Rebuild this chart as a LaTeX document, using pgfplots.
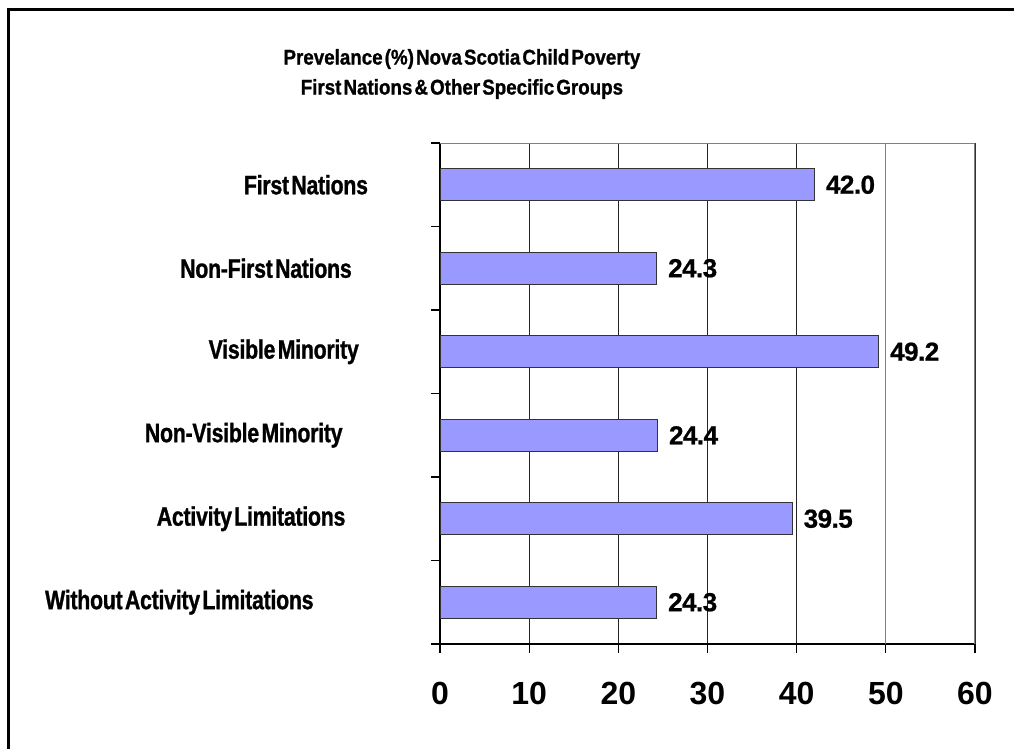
\documentclass[border=0pt]{standalone}
\usepackage{fontspec}
\usepackage{pgfplots}
\pgfplotsset{compat=1.18}
\setmainfont{Liberation Sans}
% tightly set faces for the title, category names and value labels
\newfontfamily\condfont[FakeStretch=0.80,LetterSpace=-1,WordSpace=0.4,FakeBold=1]{Liberation Sans}
\newfontfamily\titlefont[FakeStretch=0.88,WordSpace=0.4,FakeBold=1]{Liberation Sans}
\newfontfamily\numfont[LetterSpace=-2,FakeBold=0.8]{Liberation Sans}
\definecolor{barfill}{HTML}{9999FF}
\newsavebox\natbox
% category name: keeps the width of the full-size name, text set narrow from its left end
\newcommand{\catlab}[1]{%
  \sbox\natbox{\fontsize{21}{21}\selectfont\bfseries #1}%
  \makebox[\wd\natbox][l]{\fontsize{20}{20}\condfont\bfseries #1}}
\begin{document}
\begin{tikzpicture}
\useasboundingbox (0,0) rectangle (760.5pt,561.75pt);
\draw[line width=2pt] (6.4pt,0) -- (6.4pt,554.8pt) -- (770pt,554.8pt);
\begin{axis}[
  at={(330pt,78.75pt)}, anchor=south west,
  scale only axis, width=401.25pt, height=375.75pt,
  xbar, bar width=24pt,
  xmin=0, xmax=60, ymin=-0.5, ymax=5.5,
  xtick={0,10,...,60},
  xticklabels={0,10,20,30,40,50,60\hspace{16pt}},
  ytick={-0.5,0.5,1.5,2.5,3.5,4.5,5.5}, yticklabels={},
  extra y ticks={0,1,2,3,4,5},
  extra y tick labels={\catlab{Without Activity Limitations},\catlab{Activity Limitations},\catlab{Non-Visible Minority},\catlab{Visible Minority},\catlab{Non-First Nations},\catlab{First Nations}},
  extra y tick style={tick style={draw=none}},
  axis x line*=bottom, axis y line*=left,
  axis line style={-, black, line width=0.8pt},
  tick align=outside, major tick length=6.75pt,
  tick style={black, line width=0.8pt},
  xmajorgrids, major grid style={black!85, line width=0.75pt},
  /pgf/number format/assume math mode=true,
  xticklabel style={font=\fontsize{24}{24}\selectfont\bfseries, inner sep=0pt, anchor=north, yshift=-22pt},
  yticklabel style={inner sep=0pt, anchor=east, xshift=-11.75pt},
  title={Prevelance (\%) Nova Scotia Child Poverty\\First Nations \& Other Specific Groups},
  title style={at={(0.041,1.172)}, anchor=north, inner sep=0pt, align=center,
    font=\fontsize{16}{22.5}\titlefont\bfseries},
  point meta=x,
  nodes near coords={\pgfmathprintnumber[fixed,fixed zerofill,precision=1]{\pgfplotspointmeta}},
  every node near coord/.append style={anchor=west, inner sep=0pt, xshift=8.25pt,
    font=\fontsize{19.5}{19.5}\numfont\bfseries, black},
]
\addplot[fill=barfill, draw=black!80, line width=0.75pt] coordinates {
  (24.3,0) (39.5,1) (24.4,2) (49.2,3) (24.3,4) (42.0,5)
};
% lighter rule at 50 and on the top and right of the plot area
\draw[gray, line width=0.8pt] (axis cs:50,-0.5) -- (axis cs:50,5.5);
\draw[gray, line width=0.8pt] (axis cs:0,5.5) -- (axis cs:60,5.5) -- (axis cs:60,-0.5);
\end{axis}
\end{tikzpicture}
\end{document}
